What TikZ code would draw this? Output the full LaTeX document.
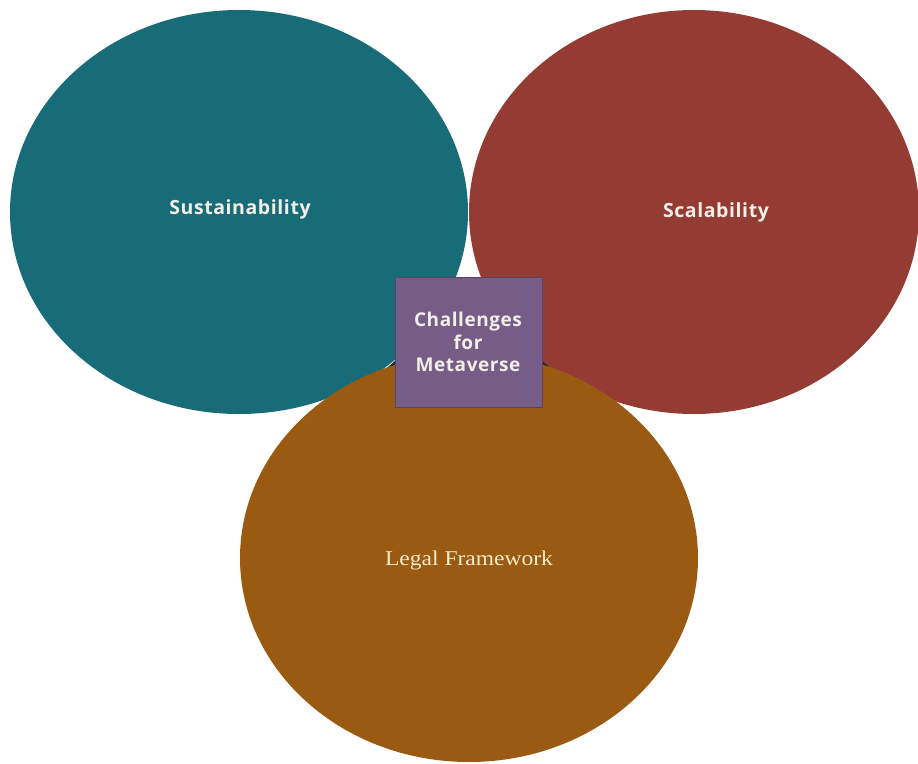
\documentclass[tikz,border=0pt]{standalone}
\usepackage{fontspec}
\setmainfont{Open Sans}
\newfontfamily\labelserif{Liberation Serif}
\usetikzlibrary{shapes.geometric}

\definecolor{tealfill}{HTML}{176C77}
\definecolor{redfill}{HTML}{943C34}
\definecolor{orangefill}{HTML}{9B5A12}
\definecolor{purplefill}{HTML}{765D88}
\definecolor{purpleedge}{HTML}{5A4268}
\definecolor{labeltext}{HTML}{F2EEE8}
\definecolor{serifcream}{HTML}{F6EBCB}

\tikzset{
  blob/.style={ellipse, draw=none, inner sep=0pt},
  bloblabel/.style={text=labeltext, font=\bfseries\fontsize{19.5}{22}\selectfont\addfontfeature{LetterSpace=3}},
  hub/.style={rectangle, fill=purplefill, draw=purpleedge, line width=0.8pt,
    minimum width=147pt, minimum height=130pt, inner sep=0pt},
  hubtext/.style={text=labeltext, align=center, font=\bfseries\fontsize{19}{22.5}\selectfont\addfontfeature{LetterSpace=3}},
}

\begin{document}
\begin{tikzpicture}[x=1pt, y=-1pt]
  \useasboundingbox (0,0) rectangle (918,763);

  % the two upper ellipses
  \node[blob, fill=tealfill, minimum width=458pt, minimum height=404pt] (sust) at (239,212) {};
  \node[blob, fill=redfill, minimum width=450pt, minimum height=404pt] (scal) at (694,212) {};

  % dark slivers where the lower ellipse meets the upper two
  \fill[black!85] (373,380) -- (396,360) -- (396,376) -- cycle;
  \fill[black!85] (541,360) -- (566,380) -- (541,376) -- cycle;

  % the lower ellipse
  \node[blob, fill=orangefill, minimum width=458pt, minimum height=408pt] (legal) at (469,558) {};

  % labels
  \node[bloblabel] (sustlabel) at (240,209) {Sustainability};
  \node[bloblabel] (scallabel) at (716,212) {Scalability};
  \node[text=serifcream, font=\labelserif\fontsize{21}{24}\selectfont] (legallabel) at (469,560)
    {\scalebox{1.12}[1]{Legal Framework}};

  % central square
  \node[hub] (hub) at (468.5,342) {};
  \node[hubtext] (hublabel) at (468,342) {Challenges\\for\\Metaverse};
\end{tikzpicture}
\end{document}
